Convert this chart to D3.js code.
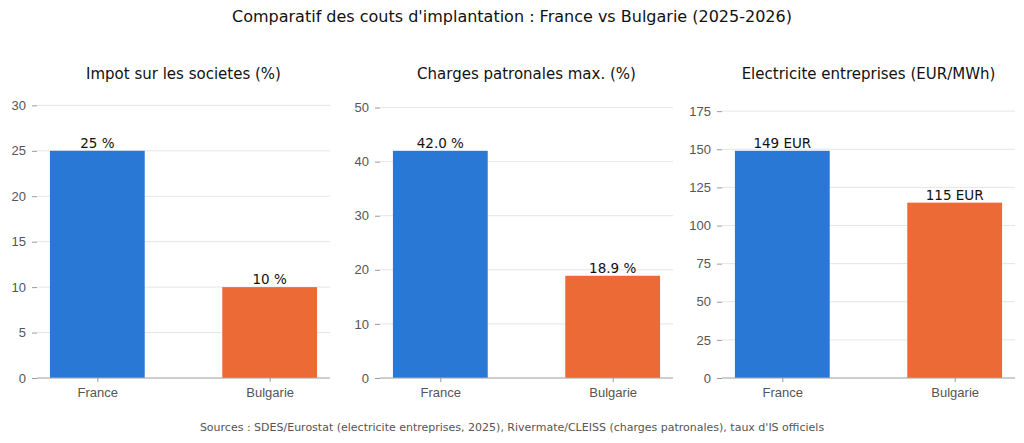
<!DOCTYPE html>
<html lang="fr">
<head>
<meta charset="UTF-8">
<script src="https://d3js.org/d3.v7.min.js"></script>
<style>
  body { margin: 0; background: #fff; font-family: "DejaVu Sans", sans-serif; }
  .tick text { fill: #555; font-size: 13px; }
</style>
</head>
<body>
<svg id="chart" width="1024" height="443"></svg>
<script>
// Data
const countries = ["France", "Bulgarie"];
const panelTitles = ["Impot sur les societes (%)", "Charges patronales max. (%)", "Electricite entreprises (EUR/MWh)"];
const impotValues = [25, 10];
const chargesValues = [42.0, 18.9];
const electriciteValues = [149, 115];
const labelFormats = [v => v + " %", v => v.toFixed(1) + " %", v => v + " EUR"];
const yTickSteps = [5, 10, 25];
const colors = ["#2a78d6", "#eb6a35"];

const svg = d3.select("#chart");

svg.append("text").attr("x", 512).attr("y", 22).attr("text-anchor", "middle")
  .attr("font-size", 16).attr("fill", "#111")
  .text("Comparatif des couts d'implantation : France vs Bulgarie (2025-2026)");

svg.append("text").attr("x", 512).attr("y", 431).attr("text-anchor", "middle")
  .attr("font-size", 11).attr("fill", "#555")
  .text("Sources : SDES/Eurostat (electricite entreprises, 2025), Rivermate/CLEISS (charges patronales), taux d'IS officiels");

const panelLefts = [37, 380, 722];
const panelWidth = 293;
const plotTop = 94, plotBottom = 378;

[impotValues, chargesValues, electriciteValues].forEach((vals, p) => {
  const g = svg.append("g").attr("transform", `translate(${panelLefts[p]},0)`);
  const x = d3.scaleLinear().domain([-0.35, 1.35]).range([0, panelWidth]);
  const y = d3.scaleLinear().domain([0, d3.max(vals) * 1.25]).range([plotBottom, plotTop]);
  const ticks = d3.range(0, y.domain()[1] + 0.001, yTickSteps[p]);

  g.selectAll(".grid").data(ticks).enter().append("line")
    .attr("x1", 0).attr("x2", panelWidth)
    .attr("y1", d => y(d)).attr("y2", d => y(d))
    .attr("stroke", "#dedede").attr("stroke-width", 0.8);

  const yAxis = g.append("g").call(d3.axisLeft(y).tickValues(ticks).tickSize(5).tickPadding(6));
  yAxis.select(".domain").remove();
  yAxis.selectAll("line").attr("stroke", "#999");

  const bw = 0.55;
  g.selectAll("rect").data(vals).enter().append("rect")
    .attr("x", (d, i) => x(i - bw / 2))
    .attr("width", x(bw) - x(0))
    .attr("y", d => y(d))
    .attr("height", d => plotBottom - y(d))
    .attr("fill", (d, i) => colors[i]);

  g.selectAll(".lbl").data(vals).enter().append("text")
    .attr("x", (d, i) => x(i)).attr("y", d => y(d) - 3)
    .attr("text-anchor", "middle").attr("font-size", 13.5).attr("fill", "#111")
    .text(d => labelFormats[p](d));

  g.append("line").attr("x1", 0).attr("x2", panelWidth).attr("y1", plotBottom).attr("y2", plotBottom)
    .attr("stroke", "#aaa");

  const xAxis = g.append("g").attr("transform", `translate(0,${plotBottom})`)
    .call(d3.axisBottom(x).tickValues([0, 1]).tickFormat(i => countries[i]).tickSize(4).tickPadding(6));
  xAxis.select(".domain").remove();
  xAxis.selectAll("line").attr("stroke", "#999");

  g.append("text").attr("x", panelWidth / 2).attr("y", 79).attr("text-anchor", "middle")
    .attr("font-size", 15).attr("fill", "#111").text(panelTitles[p]);
});
</script>
</body>
</html>
